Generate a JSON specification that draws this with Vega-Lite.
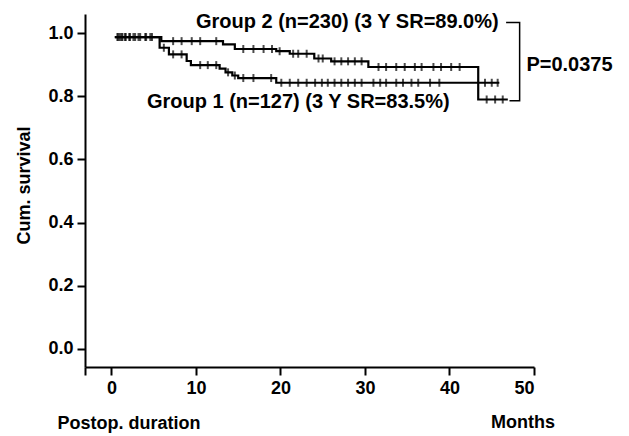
{
  "$schema": "https://vega.github.io/schema/vega-lite/v6.json",
  "width": 449,
  "height": 353,
  "autosize": "none",
  "padding": {"left": 85, "top": 14, "right": 95, "bottom": 69},
  "background": "white",
  "config": {
    "view": {"stroke": null},
    "font": "Liberation Sans",
    "axis": {"grid": false, "domainColor": "black", "domainWidth": 2, "tickColor": "black", "tickWidth": 2, "tickSize": 8, "labelColor": "black", "labelFont": "Liberation Sans", "labelFontSize": 18, "labelFontWeight": "bold", "titleColor": "black", "titleFont": "Liberation Sans", "titleFontSize": 18, "titleFontWeight": "bold"}
  },
  "datasets": {
    "curves": [
      {"group": "Group 2", "time": 0.4, "surv": 0.988},
      {"group": "Group 2", "time": 5.9, "surv": 0.975},
      {"group": "Group 2", "time": 13.2, "surv": 0.965},
      {"group": "Group 2", "time": 14.6, "surv": 0.95},
      {"group": "Group 2", "time": 19.5, "surv": 0.943},
      {"group": "Group 2", "time": 21.1, "surv": 0.935},
      {"group": "Group 2", "time": 24.0, "surv": 0.92},
      {"group": "Group 2", "time": 26.0, "surv": 0.911},
      {"group": "Group 2", "time": 30.4, "surv": 0.893},
      {"group": "Group 2", "time": 43.4, "surv": 0.79},
      {"group": "Group 2", "time": 46.9, "surv": 0.79},
      {"group": "Group 1", "time": 0.4, "surv": 0.988},
      {"group": "Group 1", "time": 5.7, "surv": 0.954},
      {"group": "Group 1", "time": 6.8, "surv": 0.933},
      {"group": "Group 1", "time": 8.9, "surv": 0.912},
      {"group": "Group 1", "time": 9.4, "surv": 0.899},
      {"group": "Group 1", "time": 12.8, "surv": 0.888},
      {"group": "Group 1", "time": 13.5, "surv": 0.876},
      {"group": "Group 1", "time": 14.3, "surv": 0.866},
      {"group": "Group 1", "time": 15.0, "surv": 0.858},
      {"group": "Group 1", "time": 19.5, "surv": 0.843},
      {"group": "Group 1", "time": 45.9, "surv": 0.843}
    ],
    "censors": [
      {"group": "Group 2", "time": 0.7, "surv": 0.988},
      {"group": "Group 2", "time": 1.0, "surv": 0.988},
      {"group": "Group 2", "time": 1.3, "surv": 0.988},
      {"group": "Group 2", "time": 1.7, "surv": 0.988},
      {"group": "Group 2", "time": 2.2, "surv": 0.988},
      {"group": "Group 2", "time": 2.8, "surv": 0.988},
      {"group": "Group 2", "time": 3.4, "surv": 0.988},
      {"group": "Group 2", "time": 4.1, "surv": 0.988},
      {"group": "Group 2", "time": 4.8, "surv": 0.988},
      {"group": "Group 2", "time": 7.3, "surv": 0.975},
      {"group": "Group 2", "time": 8.3, "surv": 0.975},
      {"group": "Group 2", "time": 9.5, "surv": 0.975},
      {"group": "Group 2", "time": 10.5, "surv": 0.975},
      {"group": "Group 2", "time": 12.4, "surv": 0.975},
      {"group": "Group 2", "time": 15.6, "surv": 0.95},
      {"group": "Group 2", "time": 16.8, "surv": 0.95},
      {"group": "Group 2", "time": 18.0, "surv": 0.95},
      {"group": "Group 2", "time": 19.0, "surv": 0.95},
      {"group": "Group 2", "time": 19.9, "surv": 0.943},
      {"group": "Group 2", "time": 21.5, "surv": 0.935},
      {"group": "Group 2", "time": 22.1, "surv": 0.935},
      {"group": "Group 2", "time": 23.1, "surv": 0.935},
      {"group": "Group 2", "time": 24.5, "surv": 0.92},
      {"group": "Group 2", "time": 25.0, "surv": 0.92},
      {"group": "Group 2", "time": 26.4, "surv": 0.911},
      {"group": "Group 2", "time": 27.2, "surv": 0.911},
      {"group": "Group 2", "time": 28.0, "surv": 0.911},
      {"group": "Group 2", "time": 28.8, "surv": 0.911},
      {"group": "Group 2", "time": 29.6, "surv": 0.911},
      {"group": "Group 2", "time": 31.6, "surv": 0.893},
      {"group": "Group 2", "time": 32.5, "surv": 0.893},
      {"group": "Group 2", "time": 33.7, "surv": 0.893},
      {"group": "Group 2", "time": 34.7, "surv": 0.893},
      {"group": "Group 2", "time": 35.9, "surv": 0.893},
      {"group": "Group 2", "time": 36.7, "surv": 0.893},
      {"group": "Group 2", "time": 38.1, "surv": 0.893},
      {"group": "Group 2", "time": 39.0, "surv": 0.893},
      {"group": "Group 2", "time": 40.2, "surv": 0.893},
      {"group": "Group 2", "time": 41.2, "surv": 0.893},
      {"group": "Group 2", "time": 44.4, "surv": 0.79},
      {"group": "Group 2", "time": 45.4, "surv": 0.79},
      {"group": "Group 2", "time": 46.3, "surv": 0.79},
      {"group": "Group 1", "time": 0.8, "surv": 0.988},
      {"group": "Group 1", "time": 1.2, "surv": 0.988},
      {"group": "Group 1", "time": 1.6, "surv": 0.988},
      {"group": "Group 1", "time": 2.1, "surv": 0.988},
      {"group": "Group 1", "time": 2.6, "surv": 0.988},
      {"group": "Group 1", "time": 3.2, "surv": 0.988},
      {"group": "Group 1", "time": 4.0, "surv": 0.988},
      {"group": "Group 1", "time": 4.6, "surv": 0.988},
      {"group": "Group 1", "time": 6.2, "surv": 0.954},
      {"group": "Group 1", "time": 7.3, "surv": 0.933},
      {"group": "Group 1", "time": 8.3, "surv": 0.933},
      {"group": "Group 1", "time": 10.5, "surv": 0.899},
      {"group": "Group 1", "time": 11.4, "surv": 0.899},
      {"group": "Group 1", "time": 12.4, "surv": 0.899},
      {"group": "Group 1", "time": 13.8, "surv": 0.876},
      {"group": "Group 1", "time": 14.6, "surv": 0.866},
      {"group": "Group 1", "time": 15.6, "surv": 0.858},
      {"group": "Group 1", "time": 16.8, "surv": 0.858},
      {"group": "Group 1", "time": 18.9, "surv": 0.858},
      {"group": "Group 1", "time": 20.1, "surv": 0.843},
      {"group": "Group 1", "time": 21.1, "surv": 0.843},
      {"group": "Group 1", "time": 22.1, "surv": 0.843},
      {"group": "Group 1", "time": 23.1, "surv": 0.843},
      {"group": "Group 1", "time": 24.1, "surv": 0.843},
      {"group": "Group 1", "time": 24.9, "surv": 0.843},
      {"group": "Group 1", "time": 25.6, "surv": 0.843},
      {"group": "Group 1", "time": 26.4, "surv": 0.843},
      {"group": "Group 1", "time": 27.2, "surv": 0.843},
      {"group": "Group 1", "time": 28.0, "surv": 0.843},
      {"group": "Group 1", "time": 28.8, "surv": 0.843},
      {"group": "Group 1", "time": 29.6, "surv": 0.843},
      {"group": "Group 1", "time": 31.0, "surv": 0.843},
      {"group": "Group 1", "time": 31.8, "surv": 0.843},
      {"group": "Group 1", "time": 32.5, "surv": 0.843},
      {"group": "Group 1", "time": 33.7, "surv": 0.843},
      {"group": "Group 1", "time": 34.5, "surv": 0.843},
      {"group": "Group 1", "time": 35.5, "surv": 0.843},
      {"group": "Group 1", "time": 36.3, "surv": 0.843},
      {"group": "Group 1", "time": 37.7, "surv": 0.843},
      {"group": "Group 1", "time": 38.8, "surv": 0.843},
      {"group": "Group 1", "time": 44.2, "surv": 0.843},
      {"group": "Group 1", "time": 45.0, "surv": 0.843},
      {"group": "Group 1", "time": 45.7, "surv": 0.843}
    ],
    "labels": [
      {"time": 10.0, "surv": 1.037, "label": "Group 2 (n=230) (3 Y SR=89.0%)"},
      {"time": 4.2, "surv": 0.783, "label": "Group 1 (n=127) (3 Y SR=83.5%)"},
      {"time": 49.1, "surv": 0.9, "label": "P=0.0375"}
    ],
    "bracket": [
      {"step": 1, "time": 46.7, "surv": 1.034},
      {"step": 2, "time": 48.3, "surv": 1.034},
      {"step": 3, "time": 48.3, "surv": 0.786},
      {"step": 4, "time": 47.1, "surv": 0.786}
    ],
    "units": [
      {"time": 48.7, "surv": -0.237, "label": "Months"}
    ]
  },
  "layer": [
    {
      "data": {"name": "curves"},
      "mark": {"type": "line", "interpolate": "step-after", "color": "black", "strokeWidth": 2.2},
      "encoding": {
        "x": {
          "field": "time", "type": "quantitative",
          "scale": {"domain": [-3.13, 50], "nice": false, "zero": false},
          "axis": {
            "values": [-3.13, 0, 10, 20, 30, 40, 50],
            "labelExpr": "datum.value < 0 ? '' : datum.label",
            "labelPadding": 4,
            "title": "Postop. duration",
            "titleAnchor": "start",
            "titleAlign": "left",
            "titleBaseline": "middle",
            "titleX": -28,
            "titleY": 56
          }
        },
        "y": {
          "field": "surv", "type": "quantitative",
          "scale": {"domain": [-0.058, 1.061], "nice": false, "zero": false},
          "axis": {
            "values": [0, 0.2, 0.4, 0.6, 0.8, 1.0],
            "format": ".1f",
            "labelPadding": 4,
            "title": "Cum. survival",
            "titleAlign": "center",
            "titleBaseline": "middle",
            "titleX": -61,
            "titleY": 171
          }
        },
        "detail": {"field": "group", "type": "nominal"}
      }
    },
    {
      "data": {"name": "censors"},
      "mark": {"type": "tick", "orient": "vertical", "color": "black", "size": 8, "thickness": 2},
      "encoding": {
        "x": {"field": "time", "type": "quantitative"},
        "y": {"field": "surv", "type": "quantitative"}
      }
    },
    {
      "data": {"name": "bracket"},
      "mark": {"type": "line", "color": "black", "strokeWidth": 1.5},
      "encoding": {
        "x": {"field": "time", "type": "quantitative"},
        "y": {"field": "surv", "type": "quantitative"},
        "order": {"field": "step", "type": "quantitative"}
      }
    },
    {
      "data": {"name": "labels"},
      "mark": {"type": "text", "align": "left", "baseline": "middle", "font": "Liberation Sans", "fontWeight": "bold", "fontSize": 20, "color": "black"},
      "encoding": {
        "x": {"field": "time", "type": "quantitative"},
        "y": {"field": "surv", "type": "quantitative"},
        "text": {"field": "label", "type": "nominal"}
      }
    },
    {
      "data": {"name": "units"},
      "mark": {"type": "text", "align": "center", "baseline": "middle", "font": "Liberation Sans", "fontWeight": "bold", "fontSize": 18, "color": "black"},
      "encoding": {
        "x": {"field": "time", "type": "quantitative"},
        "y": {"field": "surv", "type": "quantitative"},
        "text": {"field": "label", "type": "nominal"}
      }
    }
  ]
}
